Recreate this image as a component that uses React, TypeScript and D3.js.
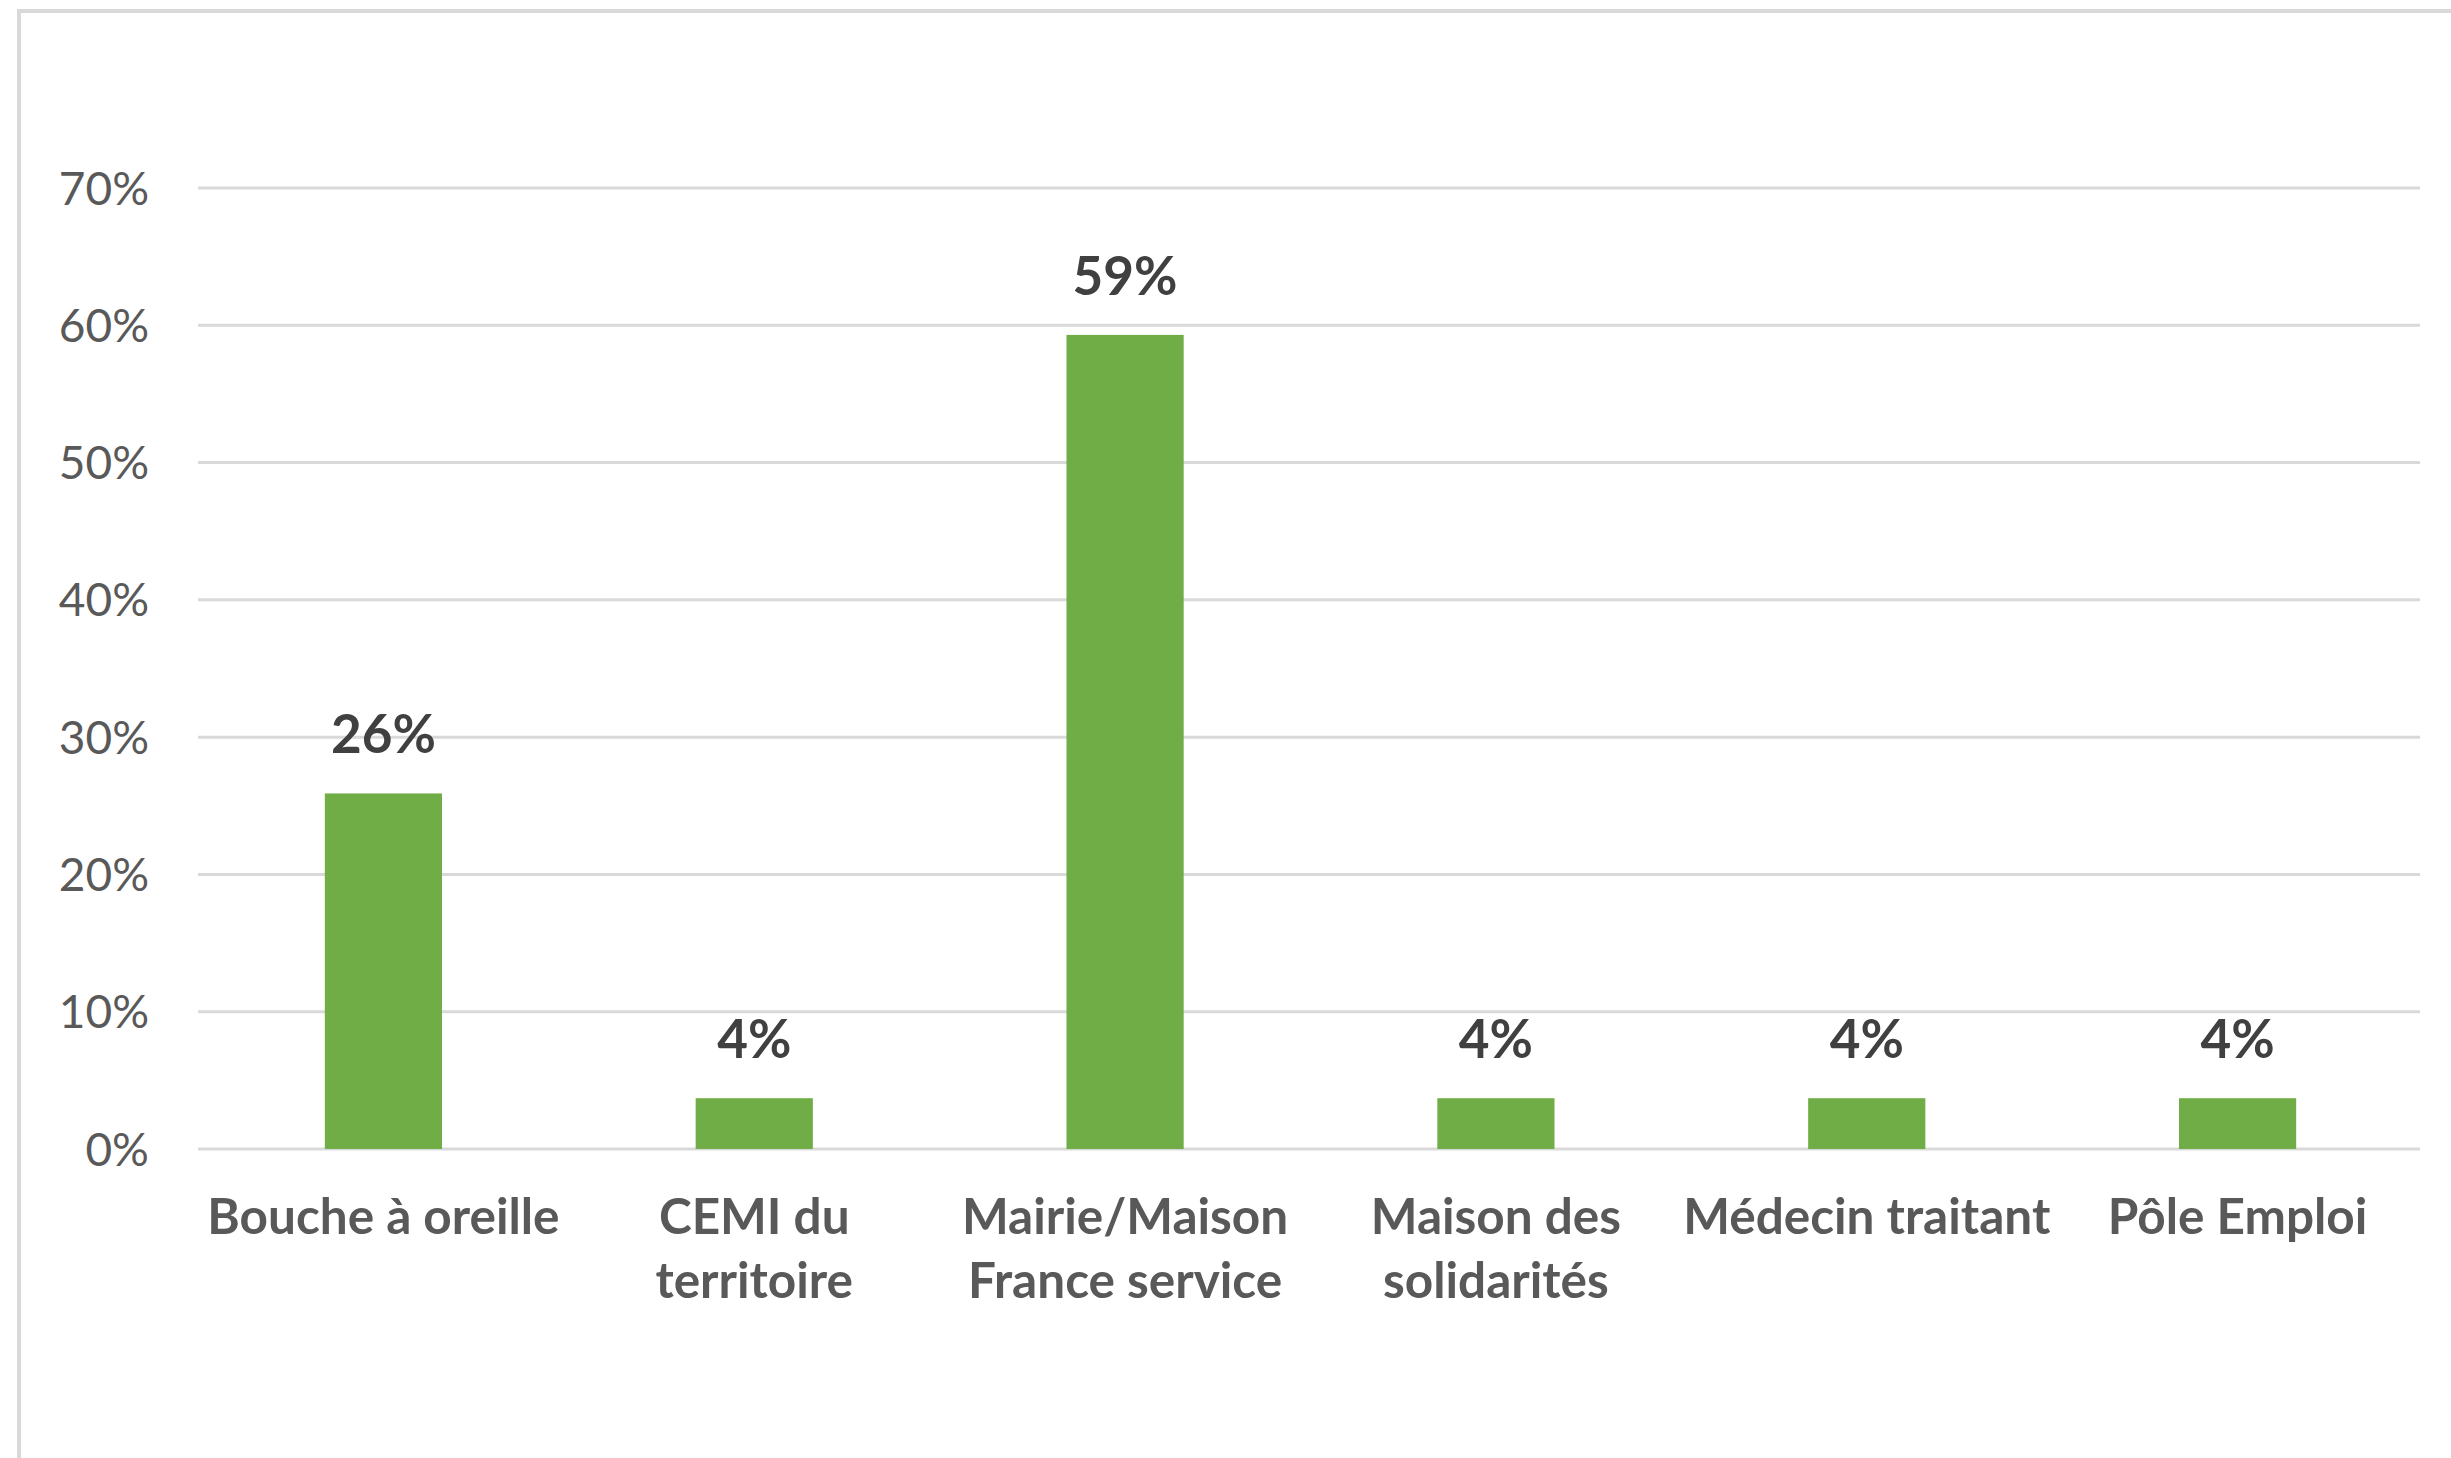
import React from "react";
import * as d3 from "d3";

const categories: string[][] = [
  ["Bouche à oreille"],
  ["CEMI du", "territoire"],
  ["Mairie/Maison", "France service"],
  ["Maison des", "solidarités"],
  ["Médecin traitant"],
  ["Pôle Emploi"],
];
const values: number[] = [0.259, 0.037, 0.593, 0.037, 0.037, 0.037];
const yTicks: number[] = [0, 0.1, 0.2, 0.3, 0.4, 0.5, 0.6, 0.7];

const W = 2451;
const H = 1458;
const FONT = "Lato, 'Open Sans', sans-serif";

export default function App() {
  const plotLeft = 198;
  const plotRight = 2423;
  const y0 = 1149;
  const y70 = 188;

  const x = d3
    .scaleBand<number>()
    .domain(d3.range(categories.length))
    .range([plotLeft, plotRight])
    .paddingInner(0.684)
    .paddingOuter(0.342);
  const y = d3.scaleLinear().domain([0, 0.7]).range([y0, y70]);
  const fmt = d3.format(".0%");

  return (
    <svg
      width={W}
      height={H}
      style={{ position: "absolute", left: 0, top: 0, background: "#fff" }}
    >
      <rect x={0} y={0} width={W} height={H} fill="#fff" />
      <rect
        x={19}
        y={11}
        width={W + 50}
        height={H + 50}
        fill="#fff"
        stroke="#d9d9d9"
        strokeWidth={4}
      />
      {yTicks.map((t) => (
        <g key={t}>
          <line
            x1={plotLeft}
            x2={2420}
            y1={y(t)}
            y2={y(t)}
            stroke="#d9d9d9"
            strokeWidth={3}
          />
          <text
            x={149}
            y={y(t)}
            dy="0.36em"
            textAnchor="end"
            fontFamily={FONT}
            fontSize={46}
            fill="#595959"
          >
            {fmt(t)}
          </text>
        </g>
      ))}
      {values.map((v, i) => {
        const bx = x(i)!;
        const bw = x.bandwidth();
        const cx = bx + bw / 2;
        return (
          <g key={i}>
            <rect x={bx} y={y(v)} width={bw} height={y0 - y(v)} fill="#70ad47" />
            <text
              x={cx}
              y={y(v) - 40}
              textAnchor="middle"
              fontFamily={FONT}
              fontWeight={700}
              fontSize={53}
              fill="#404040"
            >
              {fmt(v)}
            </text>
            {categories[i].map((line, j) => (
              <text
                key={j}
                x={cx}
                y={1234 + j * 64}
                textAnchor="middle"
                fontFamily={FONT}
                fontWeight={700}
                fontSize={49.5}
                fill="#595959"
              >
                {line}
              </text>
            ))}
          </g>
        );
      })}
    </svg>
  );
}
